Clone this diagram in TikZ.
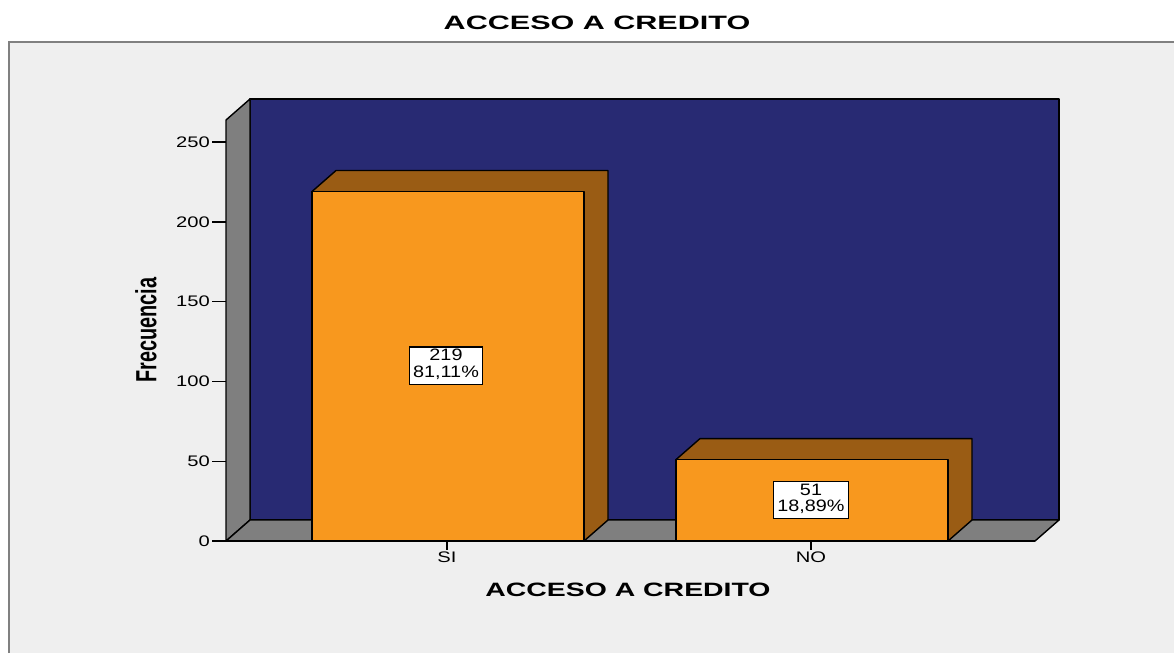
\documentclass[tikz,border=0pt]{standalone}
\usepackage{fontspec}
\setmainfont{Liberation Sans}
\usepackage{tikz}
\usetikzlibrary{positioning,calc}
\definecolor{wallblue}{RGB}{40,42,115}
\definecolor{wallgray}{RGB}{127,127,127}
\definecolor{barfront}{RGB}{248,152,30}
\definecolor{bardark}{RGB}{154,92,20}
\definecolor{panelbg}{RGB}{239,239,239}
\newcommand{\hstretch}[2][1.32]{\scalebox{#1}[1]{#2}}

\begin{document}
\begin{tikzpicture}[
    x=0.02cm, y=-0.02cm,
    font=\fontsize{8.7}{10}\selectfont,
    wall/.style={draw=black, line width=0.8pt, line join=round},
    barface/.style={draw=black, line width=0.8pt, line join=round},
    valbox/.style={rectangle, draw=black, fill=white, line width=0.6pt, align=center, inner xsep=2.2pt, inner ysep=1.4pt, font=\fontsize{9.4}{8.6}\selectfont},
    ticklbl/.style={anchor=east, inner sep=1pt},
    heading/.style={font=\bfseries\fontsize{11}{13}\selectfont}
]
    \useasboundingbox (0,0) rectangle (1174,653);
    \fill[white] (0,0) rectangle (1174,653);

    % Panel
    \fill[panelbg] (9,42) rectangle (1174,653);
    \draw[gray, line width=1.2pt] (9,653) -- (9,42) -- (1174,42);
    \node[heading] (title) at (597,23) {\hstretch[1.58]{ACCESO A CREDITO}};

    % 3D frame: back wall, side wall, floor
    \draw[wall, fill=wallblue] (250,99) rectangle (1059,520);
    \draw[wall, fill=wallgray] (226,541) -- (226,120) -- (250,99) -- (250,520) -- cycle;
    \draw[wall, fill=wallgray] (226,541) -- (1035,541) -- (1059,520) -- (250,520) -- cycle;

    % Bars
    \foreach \xl/\yt/\nm in {312/191.5/si, 676/459.6/no}{
        \draw[barface, fill=bardark] (\xl,\yt) -- ++(24,-21) -- ++(272,0) -- ++(0,541-\yt) -- ++(-24,21) -- cycle;
        \draw[barface, fill=barfront] (\xl,\yt) rectangle ++(272,541-\yt);
        \coordinate (bar-\nm) at (\xl+136,541);
    }

    % Value labels
    \node[valbox] (lblsi) at (446,365.5) {\hstretch[1.2]{\begin{tabular}{@{}c@{}}219\\81,11\%\end{tabular}}};
    \node[valbox] (lblno) at (811,500) {\hstretch[1.2]{\begin{tabular}{@{}c@{}}51\\18,89\%\end{tabular}}};

    % Y axis
    \foreach \v in {0,50,...,250}{
        \draw[black, line width=0.8pt] (212,541-\v*1.596) -- (226,541-\v*1.596);
        \node[ticklbl] (ytick\v) at (212,541-\v*1.596) {\hstretch{\v}};
    }
    \node[rotate=90, font=\bfseries\fontsize{11.3}{12}\selectfont] (ytitle) at (146,330) {\scalebox{1}[1.47]{Frecuencia}};

    % X axis
    \draw[black, line width=0.8pt] (226,541) -- (1035,541);
    \coordinate (sitick) at (447,550);
    \coordinate (notick) at (811,550);
    \draw[black, line width=0.8pt] (447,541) -- (sitick);
    \draw[black, line width=0.8pt] (811,541) -- (notick);
    \node[below=0pt of sitick, inner sep=1pt] (silbl) {\hstretch{SI}};
    \node[below=0pt of notick, inner sep=1pt] (nolbl) {\hstretch{NO}};
    \node[heading] (xtitle) at (628,590) {\hstretch[1.47]{ACCESO A CREDITO}};
\end{tikzpicture}
\end{document}
